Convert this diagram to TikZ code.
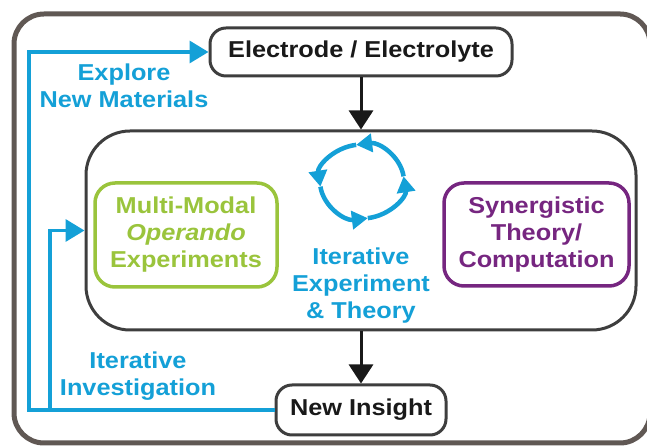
\documentclass[tikz,border=0pt]{standalone}
\usepackage{fontspec}
\setmainfont{Liberation Sans}[FakeStretch=1.1]
\usetikzlibrary{arrows.meta,positioning,calc}
\definecolor{loopblue}{RGB}{20,160,215}
\definecolor{modalgreen}{RGB}{154,196,60}
\definecolor{theorypurple}{RGB}{118,38,128}
\definecolor{boxgray}{RGB}{62,62,62}
\definecolor{framegray}{RGB}{96,88,84}
\tikzset{%
  font=\bfseries\fontsize{23}{27}\selectfont,
  frame/.style={draw=framegray,line width=5pt,rounded corners=30pt},
  box/.style={draw=boxgray,line width=3pt,rounded corners=16pt,text=black!90,align=center},
  inbox/.style={box,line width=3.5pt,rounded corners=20pt},
  bluelabel/.style={text=loopblue,align=center},
  down/.style={draw=black!90,line width=3pt,-{Triangle[length=19pt,width=24pt]}},
  flow/.style={draw=loopblue,line width=3.5pt,-{Triangle[length=19pt,width=22pt]}},
  cyc/.style={draw=loopblue,line width=4.5pt,-{Triangle[length=16pt,width=18pt]}}
}
\begin{document}
\begin{tikzpicture}[x=1pt,y=1pt]
\useasboundingbox (0,0) rectangle (647,446);
\draw[frame] (14,3) rectangle (650,432);
% main chain
\node[box,minimum width=302,minimum height=48] (electrode) at (361,394) {Electrode / Electrolyte};
\node[box,rounded corners=44pt,minimum width=550,minimum height=199] (hub) at (361,215.5) {};
\node[box,minimum width=170,minimum height=50] (insight) at (361,36) {New Insight};
\node[inbox,draw=modalgreen,text=modalgreen,minimum width=182,minimum height=104] (modal) at (186,211)
  {Multi-Modal\\\textit{Operando}\\Experiments};
\node[inbox,draw=theorypurple,text=theorypurple,minimum width=185,minimum height=103] (theory) at (536.5,211.5)
  {Synergistic\\Theory/\\Computation};
\node[bluelabel] (iterate) at (361,160) {Iterative\\Experiment\\\& Theory};
% cycle
\coordinate (loop) at (362,264.5);
\foreach \a in {8,98,188,278}
  \draw[cyc] (loop) ++(\a:42 and 37) arc[start angle=\a,delta angle=90,x radius=42,y radius=37];
\draw[down] (electrode) -- (hub);
\draw[down] (hub) -- (insight);
% feedback paths
\node[bluelabel] (explore) at (124,360) {Explore\\New Materials};
\node[bluelabel] (investigate) at (138,70) {Iterative\\Investigation};
\coordinate (outer) at (29,200);
\coordinate (inner) at (50,200);
\draw[flow] (insight.west) -| (outer) |- (electrode.west);
\draw[flow] (insight.west -| inner) |- (hub.west);
\end{tikzpicture}
\end{document}
